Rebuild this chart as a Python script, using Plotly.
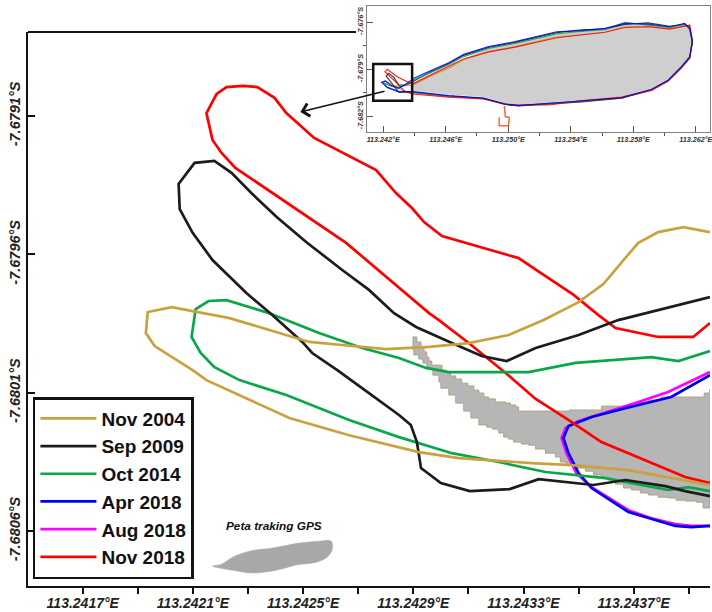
import plotly.graph_objects as go

# ---------- main map: shoreline tracks (lon / lat) ----------
series_names = ["Nov 2004", "Sep 2009", "Oct 2014", "Apr 2018", "Aug 2018", "Nov 2018"]

nov2004_lon = [113.243977,113.243880,113.243789,113.243717,113.243663,113.243590,113.243500,113.243373,113.243246,113.243101,113.242957,113.242801,113.242642,113.242522,113.242233,113.242023,113.241936,113.241929,113.241961,113.242099,113.242149,113.242294,113.242450,113.242667,113.242848,113.242920,113.243065,113.243330,113.243474,113.243681,113.243977]
nov2004_lat = [-7.679519,-7.679501,-7.679519,-7.679558,-7.679620,-7.679707,-7.679772,-7.679837,-7.679891,-7.679920,-7.679934,-7.679942,-7.679927,-7.679916,-7.679830,-7.679790,-7.679808,-7.679884,-7.679931,-7.680018,-7.680054,-7.680119,-7.680191,-7.680253,-7.680296,-7.680314,-7.680336,-7.680354,-7.680361,-7.680379,-7.680433]

sep2009_lon = [113.243977,113.243789,113.243644,113.243500,113.243344,113.243239,113.243148,113.243040,113.242910,113.242830,113.242739,113.242642,113.242511,113.242403,113.242312,113.242240,113.242178,113.242106,113.242048,113.242052,113.242099,113.242171,113.242294,113.242388,113.242497,113.242533,113.242624,113.242739,113.242848,113.242891,113.242913,113.242928,113.243000,113.243105,113.243250,113.243355,113.243554,113.243670,113.243815,113.243887,113.243977]
sep2009_lat = [-7.679754,-7.679801,-7.679837,-7.679891,-7.679938,-7.679985,-7.679967,-7.679920,-7.679862,-7.679812,-7.679728,-7.679656,-7.679555,-7.679464,-7.679378,-7.679305,-7.679262,-7.679269,-7.679345,-7.679436,-7.679522,-7.679620,-7.679739,-7.679819,-7.679916,-7.679956,-7.680018,-7.680101,-7.680180,-7.680216,-7.680278,-7.680372,-7.680426,-7.680455,-7.680448,-7.680412,-7.680433,-7.680415,-7.680437,-7.680455,-7.680473]

oct2014_lon = [113.243977,113.243862,113.243764,113.243619,113.243489,113.243319,113.243029,113.242946,113.242848,113.242714,113.242558,113.242377,113.242222,113.242157,113.242110,113.242095,113.242128,113.242178,113.242269,113.242439,113.242558,113.242667,113.242848,113.243040,113.243210,113.243380,113.243597,113.243825,113.243898,113.243977]
oct2014_lat = [-7.679949,-7.679985,-7.679971,-7.679981,-7.679992,-7.680025,-7.680025,-7.680010,-7.679974,-7.679938,-7.679884,-7.679812,-7.679765,-7.679768,-7.679797,-7.679898,-7.679956,-7.680007,-7.680054,-7.680108,-7.680155,-7.680198,-7.680260,-7.680318,-7.680350,-7.680386,-7.680408,-7.680451,-7.680441,-7.680455]

apr2018_lon = [113.243977,113.243836,113.243670,113.243547,113.243463,113.243445,113.243463,113.243500,113.243547,113.243681,113.243851,113.243909,113.243977]
apr2018_lat = [-7.680036,-7.680115,-7.680155,-7.680187,-7.680220,-7.680263,-7.680318,-7.680390,-7.680444,-7.680531,-7.680581,-7.680585,-7.680581]

aug2018_lon = [113.243977,113.243825,113.243717,113.243500,113.243453,113.243438,113.243456,113.243492,113.243547,113.243681,113.243764,113.243851,113.243909,113.243977]
aug2018_lat = [-7.680025,-7.680097,-7.680133,-7.680202,-7.680227,-7.680263,-7.680318,-7.680390,-7.680441,-7.680524,-7.680553,-7.680574,-7.680581,-7.680581]

nov2018_lon = [113.243977,113.243916,113.243789,113.243634,113.243572,113.243482,113.243373,113.243282,113.243004,113.242939,113.242895,113.242837,113.242765,113.242540,113.242439,113.242396,113.242334,113.242280,113.242222,113.242186,113.242149,113.242171,113.242204,113.242254,113.242656,113.242823,113.242957,113.242993,113.243101,113.243235,113.243344,113.243463,113.243583,113.243887,113.243977]
nov2018_lat = [-7.679848,-7.679898,-7.679898,-7.679866,-7.679819,-7.679746,-7.679674,-7.679613,-7.679533,-7.679483,-7.679432,-7.679378,-7.679295,-7.679179,-7.679089,-7.679034,-7.678995,-7.678991,-7.678995,-7.679020,-7.679089,-7.679186,-7.679233,-7.679287,-7.679558,-7.679699,-7.679812,-7.679837,-7.679920,-7.680028,-7.680122,-7.680198,-7.680278,-7.680404,-7.680426]

# gray spit polygon (GPS tracked)
spit_lon = [113.242899,113.242913,113.242928,113.242939,113.242949,113.242957,113.242967,113.243000,113.243004,113.243018,113.243036,113.243054,113.243076,113.243098,113.243120,113.243138,113.243156,113.243174,113.243199,113.243235,113.243253,113.243272,113.243282,113.243453,113.243467,113.243572,113.243583,113.243691,113.243717,113.243753,113.243800,113.243934,113.243956,113.243977,
            113.243977,113.243952,113.243927,113.243887,113.243854,113.243825,113.243789,113.243753,113.243724,113.243691,113.243663,113.243634,113.243608,113.243583,113.243554,113.243525,113.243492,113.243474,113.243453,113.243434,113.243416,113.243380,113.243344,113.243319,113.243293,113.243264,113.243246,113.243228,113.243210,113.243188,113.243167,113.243138,113.243109,113.243083,113.243054,113.243029,113.243000,113.242993,113.242971,113.242949,113.242935,113.242920,113.242902,113.242899]
spit_lat = [-7.679898,-7.679916,-7.679934,-7.679952,-7.679971,-7.679985,-7.680000,-7.680000,-7.680018,-7.680028,-7.680039,-7.680050,-7.680065,-7.680075,-7.680090,-7.680101,-7.680115,-7.680122,-7.680133,-7.680137,-7.680144,-7.680151,-7.680166,-7.680166,-7.680162,-7.680162,-7.680148,-7.680148,-7.680133,-7.680126,-7.680115,-7.680115,-7.680101,-7.680086,
            -7.680516,-7.680495,-7.680491,-7.680488,-7.680480,-7.680477,-7.680469,-7.680462,-7.680451,-7.680444,-7.680430,-7.680415,-7.680404,-7.680397,-7.680383,-7.680372,-7.680361,-7.680354,-7.680350,-7.680332,-7.680318,-7.680303,-7.680289,-7.680285,-7.680278,-7.680267,-7.680260,-7.680245,-7.680231,-7.680224,-7.680216,-7.680191,-7.680166,-7.680137,-7.680108,-7.680083,-7.680061,-7.680036,-7.680014,-7.679992,-7.679978,-7.679963,-7.679945,-7.679898]

# small "Peta traking GPS" silhouette
thumb_lon = [113.242171,113.242204,113.242244,113.242305,113.242388,113.242486,113.242558,113.242602,113.242605,113.242587,113.242548,113.242475,113.242403,113.242316,113.242244,113.242196,113.242171]
thumb_lat = [-7.680726,-7.680719,-7.680694,-7.680672,-7.680661,-7.680643,-7.680636,-7.680636,-7.680668,-7.680694,-7.680712,-7.680722,-7.680741,-7.680751,-7.680741,-7.680733,-7.680726]

# ---------- inset: whole island ----------
island_lon = [113.24374,113.24491,113.24619,113.24874,113.25310,113.25619,113.25746,113.25895,113.26034,113.26129,113.26157,113.26172,113.26155,113.26104,113.26019,113.25913,113.25725,113.25470,113.25257,113.25066,113.24981,113.24842,113.24619,113.24385,113.24374]
island_lat = [-7.67996,-7.67933,-7.67874,-7.67768,-7.67676,-7.67651,-7.67617,-7.67621,-7.67638,-7.67617,-7.67647,-7.67725,-7.67821,-7.67884,-7.67965,-7.68024,-7.68075,-7.68097,-7.68112,-7.68126,-7.68116,-7.68078,-7.68061,-7.68037,-7.67996]

shore_lon = [113.24396,113.24491,113.24619,113.24715,113.24874,113.25044,113.25310,113.25470,113.25619,113.25746,113.25895,113.26034,113.26129,113.26161,113.26178,113.26161,113.26108,113.26023,113.25917,113.25725,113.25470,113.25257,113.25066,113.24981,113.24842,113.24619,113.24385]
shore_lat_nov2004 = [-7.68000,-7.67950,-7.67895,-7.67840,-7.67790,-7.67755,-7.67695,-7.67680,-7.67665,-7.67630,-7.67628,-7.67640,-7.67622,-7.67620,-7.67700,-7.67830,-7.67892,-7.67972,-7.68030,-7.68085,-7.68104,-7.68120,-7.68130,-7.68125,-7.68086,-7.68075,-7.68050]
shore_lat_sep2009 = [-7.67975,-7.67925,-7.67865,-7.67812,-7.67762,-7.67730,-7.67668,-7.67650,-7.67645,-7.67615,-7.67606,-7.67628,-7.67615,-7.67635,-7.67728,-7.67826,-7.67888,-7.67972,-7.68032,-7.68085,-7.68108,-7.68122,-7.68134,-7.68125,-7.68087,-7.68071,-7.68045]
shore_lat_oct2014 = [-7.67968,-7.67927,-7.67870,-7.67820,-7.67768,-7.67736,-7.67675,-7.67660,-7.67648,-7.67602,-7.67618,-7.67636,-7.67612,-7.67648,-7.67730,-7.67825,-7.67890,-7.67975,-7.68030,-7.68080,-7.68106,-7.68120,-7.68130,-7.68120,-7.68086,-7.68072,-7.68047]
shore_lat_apr2018 = [-7.67958,-7.67916,-7.67859,-7.67806,-7.67757,-7.67725,-7.67662,-7.67655,-7.67640,-7.67609,-7.67613,-7.67630,-7.67609,-7.67640,-7.67725,-7.67821,-7.67884,-7.67969,-7.68028,-7.68082,-7.68103,-7.68118,-7.68132,-7.68122,-7.68084,-7.68069,-7.68043]
shore_lat_nov2018 = [-7.67990,-7.67945,-7.67885,-7.67835,-7.67790,-7.67760,-7.67700,-7.67680,-7.67665,-7.67635,-7.67630,-7.67645,-7.67625,-7.67620,-7.67725,-7.67830,-7.67892,-7.67975,-7.68035,-7.68078,-7.68100,-7.68128,-7.68128,-7.68124,-7.68090,-7.68078,-7.68058]

tip_lon_nov2004 = [113.24353,113.24300,113.24194,113.24215,113.24257,113.24332]
tip_lat_nov2004 = [-7.68050,-7.68022,-7.67986,-7.67975,-7.68007,-7.68007]
tip_lon_sep2009 = [113.24300,113.24247,113.24219,113.24236,113.24268,113.24300,113.24343]
tip_lat_sep2009 = [-7.68048,-7.67980,-7.67944,-7.67927,-7.67952,-7.68001,-7.68001]
tip_lon_oct2014 = [113.24300,113.24226,113.24200,113.24247,113.24300,113.24385]
tip_lat_oct2014 = [-7.68045,-7.68016,-7.67986,-7.68007,-7.68016,-7.67986]
tip_lon_apr2018 = [113.24300,113.24226,113.24189,113.24215,113.24257,113.24300,113.24353]
tip_lat_apr2018 = [-7.68043,-7.68016,-7.67984,-7.67975,-7.68007,-7.68022,-7.67990]
tip_lon_nov2018 = [113.24332,113.24279,113.24211,113.24226,113.24289,113.24332,113.24374]
tip_lat_nov2018 = [-7.68037,-7.67980,-7.67916,-7.67901,-7.67948,-7.67969,-7.67990]

box_lon = [113.24942,113.24942,113.25002,113.25006,113.24981,113.24975,113.24981]
box_lat = [-7.68207,-7.68260,-7.68260,-7.68207,-7.68202,-7.68134,-7.68202]

# ---------- ticks ----------
main_x_ticks = [113.2417,113.2419,113.2421,113.2423,113.2425,113.2427,113.2429,113.2431,113.2433,113.2435,113.2437,113.2439]
main_x_labels = ["113.2417°E","","113.2421°E","","113.2425°E","","113.2429°E","","113.2433°E","","113.2437°E",""]
main_y_ticks = [-7.6806,-7.6801,-7.6796,-7.6791]
main_y_labels = ["-7.6806°S","-7.6801°S","-7.6796°S","-7.6791°S"]
inset_x_ticks = [113.242,113.246,113.250,113.254,113.258,113.262]
inset_x_labels = ["113.242°E","113.246°E","113.250°E","113.254°E","113.258°E","113.262°E"]
inset_x_minor = [113.244,113.248,113.252,113.256,113.260]
inset_y_ticks = [-7.682,-7.679,-7.676]
inset_y_labels = ["-7.682°S","-7.679°S","-7.676°S"]
inset_y_minor = [-7.6805,-7.6775]

COL = {"Nov 2004":"#c9a13f","Sep 2009":"#1c1c1c","Oct 2014":"#0ba64a","Apr 2018":"#0000f0","Aug 2018":"#ff00ff","Nov 2018":"#ff0000"}
FONT = "Liberation Sans"
W, H = 712, 612

fig = go.Figure()
fig.add_trace(go.Scatter(x=spit_lon, y=spit_lat, mode="lines", fill="toself", fillcolor="#b6b6b6",
                         line=dict(color="#b59f85", width=1, shape="hv"), showlegend=False, hoverinfo="skip"))
fig.add_trace(go.Scatter(x=thumb_lon, y=thumb_lat, mode="lines", fill="toself", fillcolor="#a8a8a8",
                         line=dict(color="#a8a8a8", width=0.5, shape="spline"), showlegend=False, hoverinfo="skip"))

main = {"Nov 2004":(nov2004_lon,nov2004_lat),"Sep 2009":(sep2009_lon,sep2009_lat),"Oct 2014":(oct2014_lon,oct2014_lat),
        "Apr 2018":(apr2018_lon,apr2018_lat),"Aug 2018":(aug2018_lon,aug2018_lat),"Nov 2018":(nov2018_lon,nov2018_lat)}
for name in ["Aug 2018","Apr 2018","Nov 2018","Oct 2014","Sep 2009","Nov 2004"]:
    lon, lat = main[name]
    fig.add_trace(go.Scatter(x=lon, y=lat, mode="lines", name=name, line=dict(color=COL[name], width=2.7),
                             legendrank=series_names.index(name)+1, hoverinfo="skip"))

# inset
fig.add_trace(go.Scatter(x=island_lon, y=island_lat, xaxis="x2", yaxis="y2", mode="lines", fill="toself",
                         fillcolor="#cfcfcf", line=dict(width=0), showlegend=False, hoverinfo="skip"))
inset = [("Nov 2004",tip_lon_nov2004,tip_lat_nov2004,shore_lat_nov2004),
         ("Sep 2009",tip_lon_sep2009,tip_lat_sep2009,shore_lat_sep2009),
         ("Oct 2014",tip_lon_oct2014,tip_lat_oct2014,shore_lat_oct2014),
         ("Nov 2018",tip_lon_nov2018,tip_lat_nov2018,shore_lat_nov2018),
         ("Apr 2018",tip_lon_apr2018,tip_lat_apr2018,shore_lat_apr2018)]
for name, tlon, tlat, slat in inset:
    fig.add_trace(go.Scatter(x=tlon+shore_lon+tlon[:1], y=tlat+slat+tlat[:1], xaxis="x2", yaxis="y2", mode="lines",
                             line=dict(color=COL[name], width=1.2), opacity=0.85, showlegend=False, hoverinfo="skip"))
fig.add_trace(go.Scatter(x=box_lon, y=box_lat, xaxis="x2", yaxis="y2", mode="lines",
                         line=dict(color="#f4693c", width=1.5), showlegend=False, hoverinfo="skip"))

x_font = dict(family=FONT, size=14, color="#222", weight="bold", style="italic")
y_font = dict(family=FONT, size=14.5, color="#222", weight="bold", style="italic")
small_font = dict(family=FONT, size=7.2, color="#333", weight="bold", style="italic")

fig.update_layout(
    width=W, height=H, margin=dict(l=0, r=0, t=0, b=0), paper_bgcolor="white", plot_bgcolor="white",
    xaxis=dict(domain=[28/W, 1], range=[113.241501, 113.243977], tickmode="array", tickvals=main_x_ticks,
               ticktext=main_x_labels, ticks="outside", ticklen=6, tickwidth=1.5, tickcolor="#111", tickfont=x_font,
               ticklabelstandoff=-3, ticklabeloverflow="allow",
               tickangle=0, showgrid=False, zeroline=False, showline=True, linecolor="#111", linewidth=2),
    yaxis=dict(domain=[1-586/H, 1-32/H], range=[-7.680798, -7.678796], tickmode="array", tickvals=main_y_ticks,
               ticktext=main_y_labels, ticks="inside", ticklen=7, tickwidth=1.5, tickcolor="#111", tickfont=y_font,
               tickangle=-90, showgrid=False, zeroline=False, showline=True, linecolor="#111", linewidth=2),
    xaxis2=dict(domain=[368/W, 1], range=[113.24096, 113.26291], anchor="y2", tickmode="array", tickvals=inset_x_ticks,
                ticktext=inset_x_labels, ticks="inside", ticklen=6, tickwidth=1, tickcolor="#555", tickfont=small_font,
                ticklabeloverflow="allow",
                minor=dict(tickmode="array", tickvals=inset_x_minor, ticks="outside", ticklen=3, tickwidth=1, tickcolor="#555"),
                tickangle=0, showgrid=False, zeroline=False, showline=True, mirror=True, linecolor="#808080", linewidth=1.2),
    yaxis2=dict(domain=[1-132/H, 1-6/H], range=[-7.68300, -7.67498], anchor="x2", tickmode="array", tickvals=inset_y_ticks,
                ticktext=inset_y_labels, ticks="inside", ticklen=6, tickwidth=1, tickcolor="#555", tickfont=small_font,
                minor=dict(tickmode="array", tickvals=inset_y_minor, ticks="outside", ticklen=3, tickwidth=1, tickcolor="#555"),
                tickangle=-90, showgrid=False, zeroline=False, showline=True, mirror=True, linecolor="#808080", linewidth=1.2),
    legend=dict(x=33/W, y=1-397/H, xanchor="left", yanchor="top", bgcolor="white", bordercolor="#111", borderwidth=2.5,
                font=dict(family=FONT, size=19, color="#111", weight="bold"), itemwidth=56, traceorder="normal"),
    shapes=[
        dict(type="line", xref="x", yref="paper", x0=113.241501, x1=113.242692, y0=1-32/H, y1=1-32/H,
             line=dict(color="#111", width=2)),
        dict(type="rect", xref="x2", yref="y2", x0=113.24136, x1=113.24385, y0=-7.68101, y1=-7.67867,
             line=dict(color="#111", width=2.5)),
    ],
    annotations=[
        dict(x=113.242490, y=-7.679085, ax=113.242801, ay=-7.679009, xref="x", yref="y", axref="x", ayref="y",
             showarrow=True, arrowhead=4, arrowsize=1.6, arrowwidth=1.6, arrowcolor="#111", text=""),
        dict(x=113.242396, y=-7.68058, xref="x", yref="y", text="Peta traking GPS", showarrow=False,
             font=dict(family=FONT, size=11.8, color="#111", weight="bold", style="italic")),
    ],
)
fig.write_html("out.html", config={"displayModeBar": False}, post_script="document.body.style.margin='0';")
